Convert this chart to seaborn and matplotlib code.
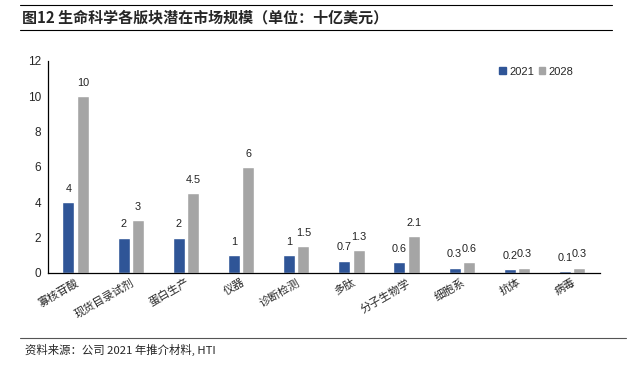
import pandas as pd
import seaborn as sns
import matplotlib.pyplot as plt
from matplotlib.lines import Line2D
from matplotlib.patches import Patch

# data (billion USD)
categories = ['寡核苷酸', '现货目录试剂', '蛋白生产', '仪器', '诊断检测',
              '多肽', '分子生物学', '细胞系', '抗体', '病毒']
years = ['2021', '2028']
values_2021 = [4, 2, 2, 1, 1, 0.7, 0.6, 0.3, 0.2, 0.1]
values_2028 = [10, 3, 4.5, 6, 1.5, 1.3, 2.1, 0.6, 0.3, 0.3]

df = pd.DataFrame({
    'category': categories * 2,
    'year': [years[0]] * len(categories) + [years[1]] * len(categories),
    'value': values_2021 + values_2028,
})

colors = ['#2F5597', '#A5A5A5']

sns.set_style('white')
plt.rcParams['font.family'] = ['Liberation Sans', 'Noto Sans CJK SC', 'DejaVu Sans']
cjk = ['Noto Sans CJK SC', 'DejaVu Sans']

fig = plt.figure(figsize=(6.36, 3.76), dpi=100)
ax = fig.add_axes([0.0755, 0.274, 0.8675, 0.564])

sns.barplot(data=df, x='category', y='value', hue='year', order=categories,
            hue_order=years, palette=colors, width=0.52, gap=0.16,
            saturation=1, legend=False, ax=ax)

# value labels on top of bars
for cont, vals in zip(ax.containers, [values_2021, values_2028]):
    ax.bar_label(cont, labels=[f'{v:g}' for v in vals], padding=6,
                 fontsize=7.8, color='#222222')

ax.set_ylim(0, 12)
ax.set_xlim(-0.5, 9.5)
ax.set_yticks(range(0, 13, 2))
ax.set_xlabel('')
ax.set_ylabel('')
for s in ['top', 'right']:
    ax.spines[s].set_visible(False)
for s in ['left', 'bottom']:
    ax.spines[s].set_color('black')
    ax.spines[s].set_linewidth(0.9)
ax.tick_params(axis='y', direction='out', length=3, width=0.8, labelsize=8.5, pad=2)
ax.tick_params(axis='x', length=0, pad=3)
ax.set_xticks(range(len(categories)))
ax.set_xticklabels(categories, rotation=30, ha='right', rotation_mode='anchor',
                   fontsize=8, family=cjk)

handles = [Patch(color=c) for c in colors]
ax.legend(handles, years, loc='upper left', bbox_to_anchor=(0.8, 1.02), ncol=2,
          frameon=False, fontsize=8, handlelength=0.6, handleheight=0.6,
          handletextpad=0.3, columnspacing=0.4)

# title block and source note
fig.add_artist(Line2D([20 / 636, 612 / 636], [1 - 5 / 376] * 2, color='black', lw=0.8))
fig.add_artist(Line2D([20 / 636, 612 / 636], [1 - 30 / 376] * 2, color='black', lw=0.8))
fig.text(22 / 636, 1 - 17.5 / 376, '图12 生命科学各版块潜在市场规模（单位：十亿美元）',
         fontsize=10.8, fontweight='bold', va='center', ha='left', family=cjk)
fig.add_artist(Line2D([20 / 636, 626 / 636], [1 - 338 / 376] * 2, color='#555555', lw=0.8))
fig.text(25 / 636, 1 - 350 / 376, '资料来源：公司 2021 年推介材料, HTI',
         fontsize=8.2, va='center', ha='left', family=cjk)

fig.savefig('out.png', dpi=100)
